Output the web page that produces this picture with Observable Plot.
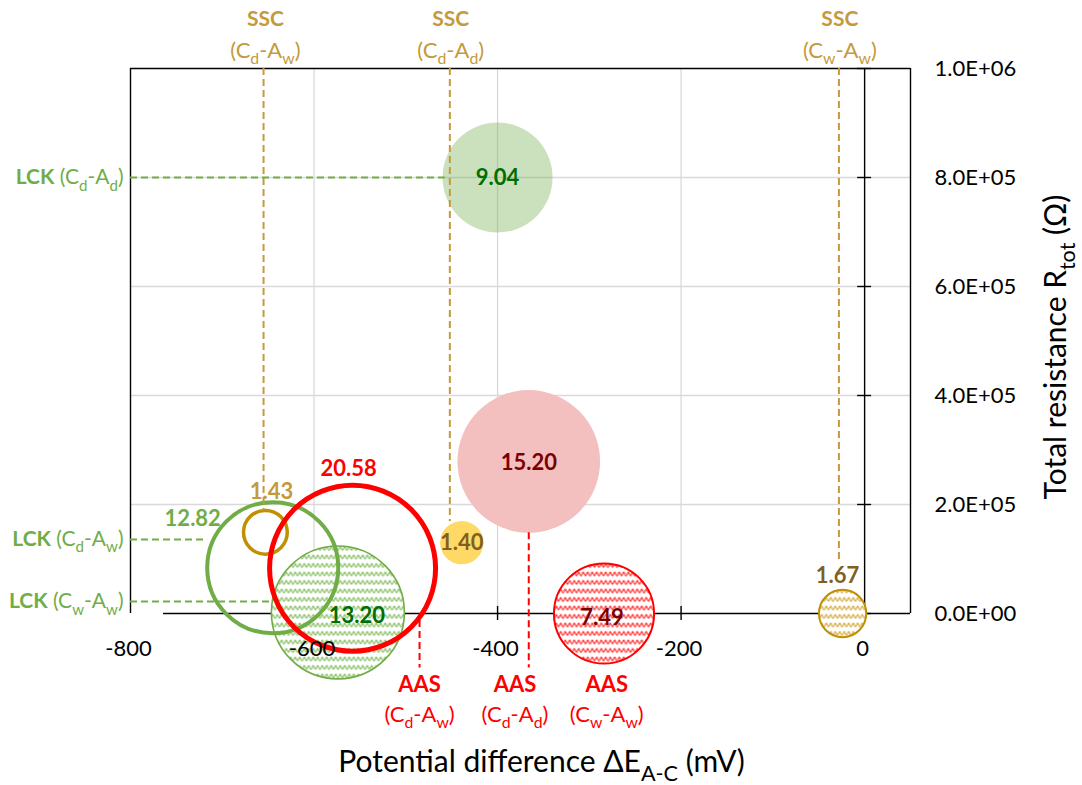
<!DOCTYPE html>
<html><head><meta charset="utf-8">
<script src="https://cdn.jsdelivr.net/npm/d3@7"></script>
<script src="https://cdn.jsdelivr.net/npm/@observablehq/plot@0.6"></script>
<style>body{margin:0;background:#fff}</style>
</head><body><div id="chart"></div>
<script>
// ---------- data ----------
const xTicks = [-800, -600, -400, -200, 0];
const xGridTicks = [-600, -400, -200];
const yTicks = [0, 2e5, 4e5, 6e5, 8e5, 1e6];
const yTickLabels = ["0.0E+00", "2.0E+05", "4.0E+05", "6.0E+05", "8.0E+05", "1.0E+06"];

const bubbleGroup = ["LCK", "AAS", "SSC", "LCK", "AAS", "SSC", "LCK", "AAS", "SSC"];
const bubbleCond  = ["Cd-Ad", "Cd-Ad", "Cd-Ad", "Cd-Aw", "Cd-Aw", "Cd-Aw", "Cw-Aw", "Cw-Aw", "Cw-Aw"];
const bubbleX     = [-400, -366, -439, -645, -558, -653, -574, -284, -24];
const bubbleY     = [8.0e5, 2.79e5, 1.30e5, 0.84e5, 0.83e5, 1.49e5, 0.02e5, 0, 0];
const bubbleSize  = [9.04, 15.20, 1.40, 12.82, 20.58, 1.43, 13.20, 7.49, 1.67];

const sscLineX    = [-655, -452, -28];
const sscLineEndY = [1.87e5, 1.69e5, 0.92e5];
const sscLabelX   = [-653, -451, -27];
const sscLabelSub = ["(C_d-A_w)", "(C_d-A_d)", "(C_w-A_w)"];

const aasLineX    = [-485, -366];
const aasLineTopY = [-0.13e5, 1.48e5];
const aasLineBotY = [-1.0e5, -1.0e5];
const aasLabelX   = [-485, -381, -281];
const aasLabelSub = ["(C_d-A_w)", "(C_d-A_d)", "(C_w-A_w)"];

const lckLineY    = [8.0e5, 1.36e5, 0.22e5];
const lckLineEndX = [-457, -716, -647];
const lckLabel    = ["*LCK* (C_d-A_d)", "*LCK* (C_d-A_w)", "*LCK* (C_w-A_w)"];

const xTitle = "Potential difference ΔE_{A-C} (mV)";
const yTitle = "Total resistance R_{tot} (Ω)";

// ---------- tables ----------
const bubbles = bubbleX.map((x, i) => ({
  id: bubbleGroup[i] + "|" + bubbleCond[i], x, y: bubbleY[i], size: bubbleSize[i],
  label: bubbleSize[i].toFixed(2)
}));
const sscLines = sscLineX.map((x, i) => ({x, y2: sscLineEndY[i]}));
const sscLabels = sscLabelX.map((x, i) => ({x, sub: sscLabelSub[i]}));
const aasLines = aasLineX.map((x, i) => ({x, y1: aasLineTopY[i], y2: aasLineBotY[i]}));
const aasLabels = aasLabelX.map((x, i) => ({x, sub: aasLabelSub[i]}));
const lckLines = lckLineY.map((y, i) => ({y, x2: lckLineEndX[i], label: lckLabel[i]}));

// ---------- styles ----------
const GREEN = "#70AD47", RED = "#FF0000", GOLD = "#BF9000", TAN = "#C49A3C";
const bubbleStyle = {
  "LCK|Cd-Ad": {fill: GREEN, fillOpacity: 0.36, stroke: "none"},
  "AAS|Cd-Ad": {fill: "#F4BFBF", stroke: "none"},
  "SSC|Cd-Ad": {fill: "#FFD966", stroke: "none"},
  "LCK|Cw-Aw": {fill: "url(#waveGreen)", stroke: GREEN, strokeWidth: 1.6},
  "AAS|Cw-Aw": {fill: "url(#waveRed)", stroke: RED, strokeWidth: 2},
  "SSC|Cw-Aw": {fill: "url(#waveGold)", stroke: GOLD, strokeWidth: 2},
  "LCK|Cd-Aw": {fill: "none", stroke: GREEN, strokeWidth: 4},
  "SSC|Cd-Aw": {fill: "none", stroke: GOLD, strokeWidth: 3.5},
  "AAS|Cd-Aw": {fill: "none", stroke: RED, strokeWidth: 5}
};
const drawOrder = ["LCK|Cd-Ad", "AAS|Cd-Ad", "SSC|Cd-Ad", "LCK|Cw-Aw", "AAS|Cw-Aw", "SSC|Cw-Aw", "LCK|Cd-Aw", "SSC|Cd-Aw", "AAS|Cd-Aw"];
const labelStyle = {
  "LCK|Cd-Ad": {fill: "#006E00", dx: 0, dy: 0},
  "AAS|Cd-Ad": {fill: "#7B0000", dx: 0, dy: 2},
  "SSC|Cd-Ad": {fill: "#7F6020", dx: 0, dy: 0},
  "LCK|Cw-Aw": {fill: "#006E00", dx: 19, dy: 4},
  "AAS|Cw-Aw": {fill: "#7B0000", dx: -2, dy: 4},
  "SSC|Cw-Aw": {fill: "#7F6020", dx: -5, dy: -38},
  "LCK|Cd-Aw": {fill: GREEN, dx: -80, dy: -49},
  "SSC|Cd-Aw": {fill: TAN, dx: 6, dy: -40},
  "AAS|Cd-Aw": {fill: RED, dx: -4, dy: -99}
};

const W = 1082, H = 785, ML = 130, MR = 172, MT = 68, MB = 172;
const XD = [-800, 50], YD = [0, 1e6];
const kx = (XD[1] - XD[0]) / (W - ML - MR);   // data units per px
const ky = (YD[1] - YD[0]) / (H - MT - MB);
const FONT = "Lato, 'Open Sans', sans-serif";
const rScale = {type: "sqrt", domain: [0, 20.58], range: [0, 83]};

const marks = [
  // grid
  Plot.ruleX(xGridTicks, {y1: YD[0], y2: YD[1], stroke: "#D9D9D9", strokeWidth: 1.3}),
  Plot.ruleY(yTicks.slice(1, -1), {x1: XD[0], x2: XD[1], stroke: "#D9D9D9", strokeWidth: 1.3}),
  // frame
  Plot.ruleY([YD[1]], {x1: XD[0], x2: XD[1], stroke: "#000", strokeWidth: 1.4}),
  Plot.ruleX(XD, {y1: 0, y2: YD[1], stroke: "#000", strokeWidth: 1.4}),
  // axes lines
  Plot.ruleY([0], {x1: -764, x2: XD[1], stroke: "#000", strokeWidth: 1.4}),
  Plot.ruleX([0], {y1: 0, y2: YD[1], stroke: "#000", strokeWidth: 1.4}),
  Plot.ruleY(yTicks, {x1: -7 * kx, x2: 7 * kx, stroke: "#000", strokeWidth: 1.4}),
  Plot.ruleX(xGridTicks, {y1: -7 * ky, y2: 7 * ky, stroke: "#000", strokeWidth: 1.4}),
];

// bubbles
for (const id of drawOrder) {
  const s = bubbleStyle[id];
  marks.push(Plot.dot(bubbles.filter(d => d.id === id), {x: "x", y: "y", r: "size", ...s}));
}

// guide lines
marks.push(
  Plot.ruleX(sscLines, {x: "x", y1: YD[1], y2: "y2", stroke: TAN, strokeWidth: 2, strokeDasharray: "7,4"}),
  Plot.ruleX(aasLines, {x: "x", y1: "y1", y2: "y2", stroke: RED, strokeWidth: 2, strokeDasharray: "7,4"}),
  Plot.ruleY(lckLines, {y: "y", x1: XD[0], x2: "x2", stroke: GREEN, strokeWidth: 2, strokeDasharray: "7,4"})
);

// tick labels
marks.push(
  Plot.text(xTicks, {x: d => d, y: 0, text: d => String(d), dx: -2, dy: 35, fontSize: 22, fill: "#000"}),
  Plot.text(yTicks, {x: XD[1], y: d => d, text: (d, i) => yTickLabels[i], dx: 24, textAnchor: "start", fontSize: 22, fill: "#000"})
);

// bubble labels
for (const id of drawOrder) {
  const s = labelStyle[id];
  marks.push(Plot.text(bubbles.filter(d => d.id === id), {x: "x", y: "y", text: "label", fill: s.fill, dx: s.dx, dy: s.dy, fontSize: 22, fontWeight: "bold"}));
}

// annotation labels
marks.push(
  Plot.text(sscLabels, {x: "x", y: YD[1], text: () => "SSC", dy: -49, fontSize: 21, fontWeight: "bold", fill: TAN}),
  Plot.text(sscLabels, {x: "x", y: YD[1], text: "sub", dy: -18, fontSize: 22, fill: TAN}),
  Plot.text(aasLabels, {x: "x", y: 0, text: () => "AAS", dy: 71, fontSize: 22, fontWeight: "bold", fill: RED}),
  Plot.text(aasLabels, {x: "x", y: 0, text: "sub", dy: 101, fontSize: 22, fill: RED}),
  Plot.text(lckLines, {x: XD[0], y: "y", text: "label", dx: -7, textAnchor: "end", fontSize: 21, fill: GREEN}),
  Plot.text([xTitle], {frameAnchor: "bottom", textAnchor: "middle", lineAnchor: "middle", dx: 21, dy: 149, fontSize: 30, fill: "#000"}),
  Plot.text([yTitle], {frameAnchor: "right", textAnchor: "middle", lineAnchor: "middle", dx: 146, dy: 6, rotate: -90, fontSize: 30, fill: "#000"})
);

const svg = Plot.plot({
  width: W, height: H,
  marginLeft: ML, marginRight: MR, marginTop: MT, marginBottom: MB,
  x: {domain: XD, axis: null},
  y: {domain: YD, axis: null},
  r: rScale,
  style: {fontFamily: FONT, background: "white", overflow: "visible"},
  marks
});

// wave patterns
const ns = "http://www.w3.org/2000/svg";
function wave(id, color) {
  return `<pattern id="${id}" patternUnits="userSpaceOnUse" width="9" height="8.5">
    <rect width="9" height="8.5" fill="white"/>
    <path d="M-0.5,6 C1,6 1.5,2 2.25,2 C3,2 3.5,6 4.5,6 C5.5,6 6,2 6.75,2 C7.5,2 8,6 9.5,6" fill="none" stroke="${color}" stroke-width="1.2"/>
  </pattern>`;
}
const defs = document.createElementNS(ns, "defs");
defs.innerHTML = wave("waveGreen", "#86BE62") + wave("waveRed", "#FF2E2E") + wave("waveGold", "#D4AB40");
svg.insertBefore(defs, svg.firstChild);

document.getElementById("chart").appendChild(svg);

// rich text: *bold*, _x / _{xyz} subscripts
svg.querySelectorAll("text").forEach(t => {
  const s = t.textContent;
  if (!/[_*]/.test(s)) return;
  const fs = parseFloat(getComputedStyle(t).fontSize) || 16;
  const segs = []; let bold = false, buf = "", i = 0;
  const push = (txt, sub) => { if (txt) segs.push({txt, bold, sub}); };
  while (i < s.length) {
    const c = s[i];
    if (c === "*") { push(buf, false); buf = ""; bold = !bold; i++; }
    else if (c === "_") {
      push(buf, false); buf = "";
      let sub;
      if (s[i + 1] === "{") { const j = s.indexOf("}", i); sub = s.slice(i + 2, j); i = j + 1; }
      else { sub = s[i + 1]; i += 2; }
      push(sub, true);
    } else { buf += c; i++; }
  }
  push(buf, false);
  t.textContent = "";
  let shifted = false;
  for (const seg of segs) {
    const ts = document.createElementNS(ns, "tspan");
    ts.textContent = seg.txt;
    if (seg.bold) ts.setAttribute("font-weight", "bold");
    if (seg.sub) {
      ts.setAttribute("font-size", (fs * 0.72).toFixed(1));
      if (!shifted) { ts.setAttribute("dy", (fs * 0.3).toFixed(1)); shifted = true; }
    } else if (shifted) { ts.setAttribute("dy", (-fs * 0.3).toFixed(1)); shifted = false; }
    t.appendChild(ts);
  }
});
</script>
</body></html>
